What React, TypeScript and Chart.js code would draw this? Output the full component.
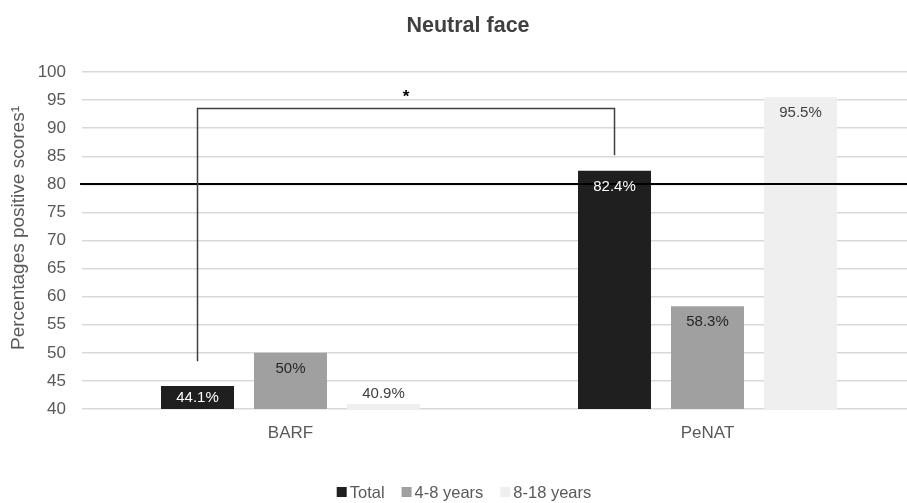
import React, { useEffect, useRef } from "react";
import { Chart, registerables } from "chart.js";
Chart.register(...registerables);

const chartTitle = "Neutral face";
const yAxisTitle = "Percentages positive scores¹";
const categories = ["BARF", "PeNAT"];
const seriesNames = ["Total", "4-8 years", "8-18 years"];
const totalValues = [44.1, 82.4];
const age48Values = [50, 58.3];
const age818Values = [40.9, 95.5];
const valueLabels = [["44.1%", "82.4%"], ["50%", "58.3%"], ["40.9%", "95.5%"]];
const referenceValue = 80;
const bracketLeftBottom = 48.5;
const bracketTop = 93.5;
const bracketRightBottom = 85.2;
const starValue = 96.6;
const yMin = 40;
const yMax = 100;
const yStep = 5;

const colors = ["#1f1f1f", "#a0a0a0", "#efefef"];
const labelColors = ["#ffffff", "#262626", "#404040"];
const textColor = "#595959";
const FONT = "'Liberation Sans', Arial, sans-serif";

export default function App() {
  const ref = useRef<HTMLCanvasElement | null>(null);
  useEffect(() => {
    if (!ref.current) return;
    const overlay = {
      id: "overlay",
      afterDatasetsDraw(chart: any) {
        const ctx = chart.ctx;
        const y = chart.scales.y;
        const area = chart.chartArea;
        ctx.save();
        // reference line
        const ry = Math.round(y.getPixelForValue(referenceValue));
        ctx.strokeStyle = "#000000";
        ctx.lineWidth = 2;
        ctx.beginPath();
        ctx.moveTo(area.left - 2, ry);
        ctx.lineTo(area.right, ry);
        ctx.stroke();
        // data labels
        ctx.font = `15px ${FONT}`;
        ctx.textAlign = "center";
        ctx.textBaseline = "middle";
        chart.data.datasets.forEach((ds: any, di: number) => {
          const meta = chart.getDatasetMeta(di);
          meta.data.forEach((bar: any, i: number) => {
            const base = Math.min(bar.base, area.bottom);
            const h = base - bar.y;
            let ly;
            if (h >= 32) ly = bar.y + 16;
            else if (h >= 18) ly = (bar.y + base) / 2;
            else ly = bar.y - 10;
            ctx.fillStyle = labelColors[di];
            ctx.fillText(valueLabels[di][i], bar.x, ly);
          });
        });
        // bracket
        const m0 = chart.getDatasetMeta(0).data;
        const x1 = m0[0].x;
        const x2 = m0[1].x;
        ctx.strokeStyle = "#404040";
        ctx.lineWidth = 1.5;
        ctx.beginPath();
        ctx.moveTo(x1, y.getPixelForValue(bracketLeftBottom));
        ctx.lineTo(x1, y.getPixelForValue(bracketTop));
        ctx.lineTo(x2, y.getPixelForValue(bracketTop));
        ctx.lineTo(x2, y.getPixelForValue(bracketRightBottom));
        ctx.stroke();
        ctx.fillStyle = "#000000";
        ctx.font = `bold 17px ${FONT}`;
        ctx.fillText("*", (x1 + x2) / 2, y.getPixelForValue(starValue) + 6);
        // title
        ctx.fillStyle = "#404040";
        ctx.font = `bold 21.5px ${FONT}`;
        ctx.fillText(chartTitle, 468, 26);
        // y axis title
        ctx.save();
        ctx.translate(19, 228);
        ctx.rotate(-Math.PI / 2);
        ctx.fillStyle = textColor;
        ctx.font = `19px ${FONT}`;
        ctx.fillText(yAxisTitle, 0, 0);
        ctx.restore();
        // legend
        ctx.font = `16.5px ${FONT}`;
        ctx.textAlign = "left";
        const gap = 3;
        const spacing = 17;
        const box = 10;
        const widths = seriesNames.map((n) => box + gap + ctx.measureText(n).width);
        const total = widths.reduce((a, b) => a + b, 0) + spacing * (seriesNames.length - 1);
        let lx = 464 - total / 2;
        const ly = 492;
        seriesNames.forEach((n, i) => {
          ctx.fillStyle = colors[i];
          ctx.fillRect(lx, ly - box / 2, box, box);
          ctx.fillStyle = textColor;
          ctx.fillText(n, lx + box + gap, ly + 1);
          lx += widths[i] + spacing;
        });
        ctx.restore();
      },
    };
    const chart = new Chart(ref.current, {
      type: "bar",
      data: {
        labels: categories,
        datasets: [
          { label: seriesNames[0], data: totalValues, backgroundColor: colors[0] },
          { label: seriesNames[1], data: age48Values, backgroundColor: colors[1] },
          { label: seriesNames[2], data: age818Values, backgroundColor: colors[2] },
        ],
      },
      options: {
        responsive: false,
        animation: false,
        devicePixelRatio: 1,
        layout: { padding: { top: 72, left: 0, right: 4, bottom: 0 } },
        datasets: { bar: { categoryPercentage: 0.669, barPercentage: 0.785 } },
        plugins: {
          legend: { display: false },
          title: { display: false },
          tooltip: { enabled: false },
        },
        scales: {
          x: {
            grid: { display: false },
            border: { display: false },
            ticks: { color: textColor, font: { size: 17, family: FONT }, padding: 6 },
            afterFit: (s: any) => { s.height = 94; },
          },
          y: {
            min: yMin,
            max: yMax,
            grid: { color: "#d9d9d9", lineWidth: 1.5, drawTicks: false },
            border: { display: false },
            ticks: { stepSize: yStep, color: textColor, font: { size: 17, family: FONT }, padding: 16 },
            title: { display: false },
            afterFit: (s: any) => { s.width = 82; },
          },
        },
      },
      plugins: [overlay],
    });
    return () => chart.destroy();
  }, []);
  return (
    <div style={{ position: "fixed", top: 0, left: 0, width: 907, height: 503, overflow: "hidden", background: "#fff" }}>
      <canvas ref={ref} width={920} height={503} style={{ width: 920, height: 503, display: "block" }} />
    </div>
  );
}
